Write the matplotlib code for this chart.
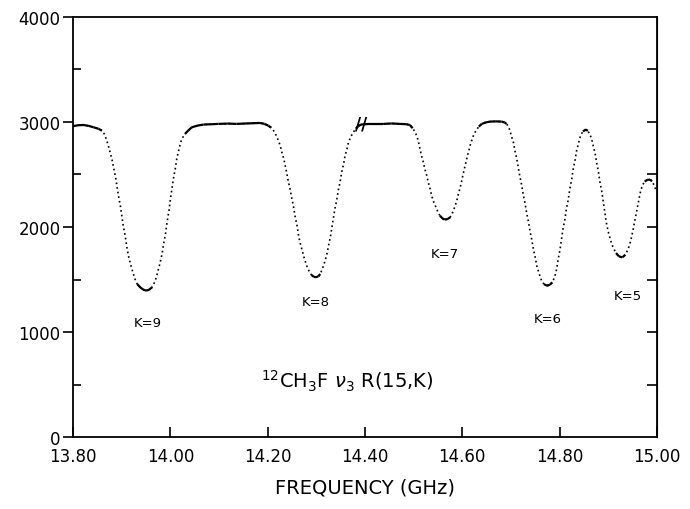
import numpy as np
import matplotlib
matplotlib.use("Agg")
import matplotlib.pyplot as plt
from matplotlib.collections import LineCollection

# frequency (GHz) and signal
freq = [13.800, 13.810, 13.821, 13.832, 13.842, 13.852, 13.859, 13.864, 13.868, 13.872,
        13.876, 13.880, 13.883, 13.887, 13.890, 13.893, 13.897, 13.900, 13.903, 13.907,
        13.910, 13.913, 13.917, 13.922, 13.927, 13.932, 13.938, 13.944, 13.950, 13.956,
        13.962, 13.967, 13.971, 13.975, 13.979, 13.983, 13.986, 13.990, 13.993, 13.997,
        14.000, 14.003, 14.006, 14.010, 14.013, 14.017, 14.021, 14.025, 14.030, 14.037,
        14.044, 14.056, 14.068, 14.084, 14.099, 14.118, 14.136, 14.160, 14.184, 14.193,
        14.201, 14.207, 14.212, 14.217, 14.222, 14.226, 14.229, 14.233, 14.236, 14.239,
        14.242, 14.246, 14.249, 14.253, 14.256, 14.260, 14.263, 14.266, 14.270, 14.275,
        14.280, 14.285, 14.290, 14.295, 14.299, 14.304, 14.308, 14.313, 14.318, 14.322,
        14.325, 14.329, 14.332, 14.335, 14.338, 14.342, 14.345, 14.349, 14.352, 14.356,
        14.359, 14.363, 14.366, 14.371, 14.376, 14.381, 14.386, 14.392, 14.400, 14.410,
        14.438, 14.455, 14.472, 14.485, 14.492, 14.498, 14.503, 14.507, 14.510, 14.513,
        14.516, 14.520, 14.523, 14.527, 14.530, 14.534, 14.537, 14.541, 14.546, 14.550,
        14.554, 14.559, 14.564, 14.570, 14.575, 14.579, 14.583, 14.588, 14.592, 14.597,
        14.601, 14.605, 14.609, 14.613, 14.617, 14.622, 14.628, 14.634, 14.640, 14.648,
        14.657, 14.669, 14.681, 14.687, 14.691, 14.695, 14.698, 14.701, 14.705, 14.708,
        14.712, 14.715, 14.718, 14.722, 14.725, 14.729, 14.732, 14.736, 14.739, 14.743,
        14.746, 14.750, 14.753, 14.758, 14.763, 14.768, 14.774, 14.780, 14.785, 14.790,
        14.794, 14.797, 14.801, 14.804, 14.807, 14.811, 14.814, 14.818, 14.821, 14.825,
        14.828, 14.832, 14.835, 14.839, 14.843, 14.848, 14.854, 14.858, 14.862, 14.866,
        14.869, 14.873, 14.876, 14.880, 14.883, 14.887, 14.890, 14.893, 14.896, 14.900,
        14.905, 14.910, 14.916, 14.922, 14.929, 14.935, 14.941, 14.946, 14.950, 14.954,
        14.958, 14.962, 14.966, 14.970, 14.975, 14.980, 14.986, 14.990, 14.994, 14.998,
        15.000]
signal = [2960, 2968, 2971, 2962, 2949, 2935, 2917, 2885, 2838, 2780,
          2711, 2640, 2568, 2480, 2393, 2300, 2203, 2110, 2013, 1915,
          1822, 1740, 1663, 1580, 1505, 1455, 1425, 1404, 1394, 1402,
          1425, 1470, 1521, 1590, 1663, 1750, 1838, 1940, 2044, 2155,
          2267, 2360, 2457, 2555, 2648, 2730, 2806, 2850, 2886, 2920,
          2949, 2965, 2975, 2978, 2981, 2984, 2981, 2986, 2990, 2982,
          2965, 2945, 2917, 2875, 2822, 2770, 2711, 2650, 2584, 2515,
          2441, 2360, 2283, 2195, 2108, 2020, 1933, 1860, 1790, 1705,
          1632, 1580, 1543, 1525, 1521, 1530, 1552, 1610, 1679, 1750,
          1822, 1910, 1997, 2085, 2171, 2260, 2346, 2435, 2521, 2600,
          2679, 2745, 2806, 2860, 2902, 2935, 2959, 2975, 2978, 2981,
          2981, 2985, 2981, 2978, 2971, 2940, 2902, 2860, 2806, 2745,
          2679, 2615, 2552, 2490, 2425, 2360, 2298, 2240, 2187, 2140,
          2108, 2082, 2070, 2076, 2092, 2125, 2171, 2240, 2314, 2400,
          2489, 2570, 2648, 2720, 2790, 2860, 2917, 2955, 2981, 2995,
          3003, 3005, 3003, 2995, 2981, 2955, 2917, 2865, 2806, 2730,
          2648, 2570, 2489, 2400, 2314, 2225, 2140, 2050, 1965, 1875,
          1790, 1710, 1632, 1555, 1489, 1455, 1441, 1450, 1473, 1525,
          1600, 1690, 1790, 1885, 1981, 2075, 2171, 2265, 2362, 2455,
          2552, 2640, 2727, 2800, 2870, 2910, 2927, 2915, 2886, 2835,
          2775, 2700, 2616, 2520, 2425, 2330, 2235, 2140, 2044, 1955,
          1870, 1805, 1752, 1720, 1711, 1735, 1790, 1865, 1949, 2045,
          2140, 2235, 2330, 2395, 2432, 2448, 2451, 2435, 2400, 2355,
          2330]

k_labels = ["K=9", "K=8", "K=7", "K=6", "K=5"]
k_freq = [13.954, 14.299, 14.564, 14.776, 14.940]
k_sig = [1095, 1295, 1752, 1133, 1352]

plt.rcParams['font.family'] = 'DejaVu Sans'

fig = plt.figure(figsize=(6.9, 5.1), dpi=100)
ax = fig.add_axes([0.106, 0.141, 0.846, 0.824])
ax.set_xlim(13.8, 15.0)
ax.set_ylim(0, 4000)

x = np.array(freq)
y = np.array(signal)

# dotted trace everywhere, solid where the trace is flat (dots merge there)
ax.plot(x, y, color='black', lw=1.2, ls=(0, (1, 1.8)))
pix = ax.transData.transform(np.column_stack([x, y]))
dx = np.diff(pix[:, 0])
dy = np.diff(pix[:, 1])
flat = np.abs(dy) / np.maximum(dx, 1e-6) < 1.2
segs = [[(x[i], y[i]), (x[i + 1], y[i + 1])] for i in range(len(x) - 1) if flat[i]]
ax.add_collection(LineCollection(segs, colors='black', linewidths=1.6))

# axis break mark
ax.text(14.393, 2985, "//", fontsize=12, fontweight='bold', ha='center', va='center')

for lab, fx, sy in zip(k_labels, k_freq, k_sig):
    ax.text(fx, sy, lab, fontsize=9.5, ha='center', va='center')

ax.text(14.363, 543, r'$^{12}$CH$_3$F $\nu_3$ R(15,K)', fontsize=14,
        ha='center', va='center')

ax.set_xticks(np.arange(13.8, 15.01, 0.2))
ax.set_xticklabels(['%.2f' % v for v in np.arange(13.8, 15.01, 0.2)])
ax.set_yticks([0, 1000, 2000, 3000, 4000])
ax.set_yticks(np.arange(500, 4000, 1000), minor=True)
ax.tick_params(axis='x', direction='in', length=7, width=1.2, labelsize=12, pad=7)
ax.tick_params(axis='y', which='major', direction='out', length=7, width=1.2,
               labelsize=12, pad=2)
ax.tick_params(axis='y', which='minor', direction='in', length=6, width=1.2)

sec = ax.secondary_yaxis('right')
sec.set_yticks(np.arange(500, 4000, 500))
sec.tick_params(direction='in', length=7, width=1.2, labelright=False)

for s in ax.spines.values():
    s.set_linewidth(1.3)

ax.set_xlabel('FREQUENCY (GHz)', fontsize=14, labelpad=9)

fig.savefig('out.png', dpi=100)
